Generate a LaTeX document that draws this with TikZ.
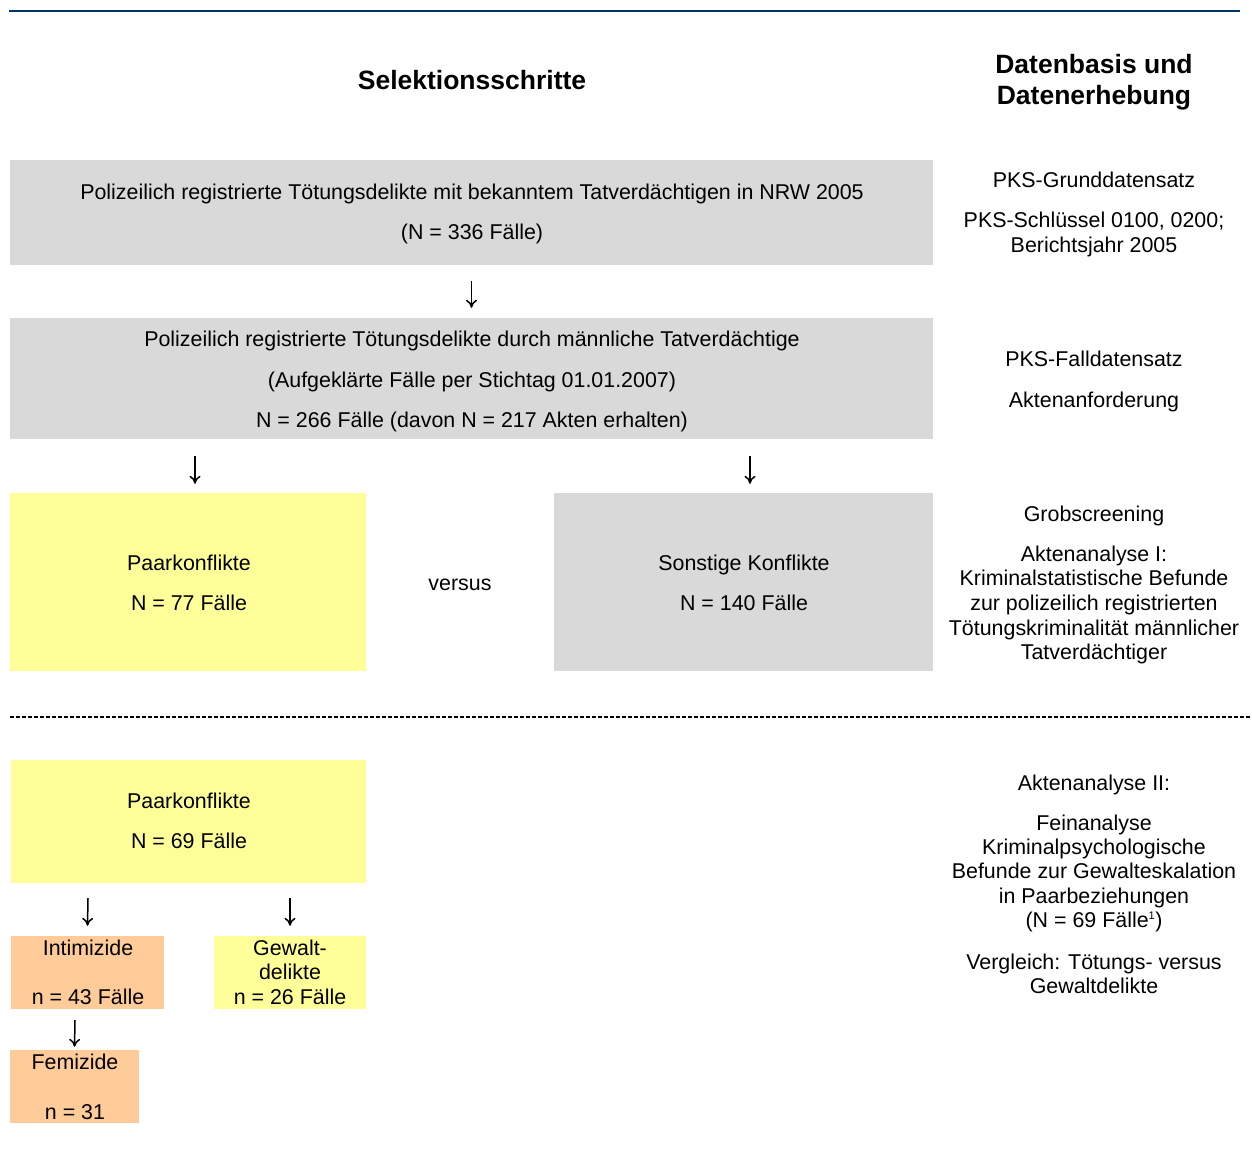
\documentclass[tikz,border=0pt]{standalone}
\usepackage{fontspec}
\setmainfont{Liberation Sans}
\usetikzlibrary{arrows.meta}
\definecolor{navy}{HTML}{003366}
\definecolor{boxgrey}{HTML}{D9D9D9}
\definecolor{boxyellow}{HTML}{FFFF99}
\definecolor{boxorange}{HTML}{FFCC99}
\tikzset{
  txt/.style={anchor=base,inner sep=0pt,font=\fontsize{21.4}{25}\selectfont},
  head/.style={anchor=base,inner sep=0pt,font=\fontsize{26.5}{31}\selectfont\bfseries},
  flowarrow/.style={-{To[length=8pt,width=11pt]},line width=1.5pt},
  box/.style={minimum width=#1,inner sep=0pt},
}
\begin{document}
\begin{tikzpicture}[x=1pt,y=-1pt]
\useasboundingbox (0,0) rectangle (1252,1155);
% top rule
\draw[navy,line width=2.2pt] (9,11) -- (1240,11);
% headings
\node[head] (h1) at (472,90) {Selektionsschritte};
\node[head] (h2) at (1094,74) {Datenbasis und};
\node[head] (h3) at (1094,105) {Datenerhebung};
% boxes
\node[fill=boxgrey,box=923pt,minimum height=105pt] (b1) at (471.5,212.5) {};
\node[fill=boxgrey,box=923pt,minimum height=121pt] (b2) at (471.5,378.5) {};
\node[fill=boxyellow,box=356pt,minimum height=178pt] (b3) at (188,582) {};
\node[fill=boxgrey,box=379pt,minimum height=178pt] (b4) at (743.5,582) {};
\node[fill=boxyellow,box=355pt,minimum height=123pt] (b5) at (188.5,821.5) {};
\node[fill=boxorange,box=153pt,minimum height=73pt] (b6) at (87.5,972.5) {};
\node[fill=boxyellow,box=152pt,minimum height=73pt] (b7) at (290,972.5) {};
\node[fill=boxorange,box=129pt,minimum height=73pt] (b8) at (74.5,1086.5) {};
% box texts
\node[txt] (t1a) at (472,200) {Polizeilich registrierte Tötungsdelikte mit bekanntem Tatverdächtigen in NRW 2005};
\node[txt] (t1b) at (472,240) {(N = 336 Fälle)};
\node[txt] (t2a) at (472,346) {Polizeilich registrierte Tötungsdelikte durch männliche Tatverdächtige};
\node[txt] (t2b) at (472,387) {(Aufgeklärte Fälle per Stichtag 01.01.2007)};
\node[txt] (t2c) at (472,427) {N = 266 Fälle (davon N = 217 Akten erhalten)};
\node[txt] (t3a) at (189,570) {Paarkonflikte};
\node[txt] (t3b) at (189,610) {N = 77 Fälle};
\node[txt] (vs) at (460,590) {versus};
\node[txt] (t4a) at (744,570) {Sonstige Konflikte};
\node[txt] (t4b) at (744,610) {N = 140 Fälle};
\node[txt] (t5a) at (189,808) {Paarkonflikte};
\node[txt] (t5b) at (189,848) {N = 69 Fälle};
\node[txt] (t6a) at (88,955) {Intimizide};
\node[txt] (t6b) at (88,1004) {n = 43 Fälle};
\node[txt] (t7a) at (290,955) {Gewalt-};
\node[txt] (t7b) at (290,979) {delikte};
\node[txt] (t7c) at (290,1004) {n = 26 Fälle};
\node[txt] (t8a) at (75,1069) {Femizide};
\node[txt] (t8b) at (75,1119) {n = 31};
% arrows
\draw[flowarrow] ([yshift=-16pt]b1.south) -- ([yshift=10pt]b2.north);
\draw[flowarrow] ([xshift=-276.5pt,yshift=-17pt]b2.south) -- ([xshift=7pt,yshift=9pt]b3.north);
\draw[flowarrow] ([xshift=278.5pt,yshift=-17pt]b2.south) -- ([xshift=6.5pt,yshift=9pt]b4.north);
\draw[flowarrow] ([xshift=-100.5pt,yshift=-15pt]b5.south) -- ([yshift=10pt]b6.north);
\draw[flowarrow] ([xshift=101.5pt,yshift=-15pt]b5.south) -- ([yshift=10pt]b7.north);
\draw[flowarrow] ([xshift=-12.5pt,yshift=-11pt]b6.south) -- ([yshift=3pt]b8.north);
% dashed separator
\draw[line width=1.3pt,dash pattern=on 4pt off 2pt] (10,717) -- (1252,717);
% right column
\node[txt] (r1) at (1094,188) {PKS-Grunddatensatz};
\node[txt] (r2) at (1094,228) {PKS-Schlüssel 0100, 0200;};
\node[txt] (r3) at (1094,253) {Berichtsjahr 2005};
\node[txt] (r4) at (1094,366) {PKS-Falldatensatz};
\node[txt] (r5) at (1094,407) {Aktenanforderung};
\node[txt] (r6) at (1094,521) {Grobscreening};
\node[txt] (r7) at (1094,561) {Aktenanalyse I:};
\node[txt] (r8) at (1094,585) {Kriminalstatistische Befunde};
\node[txt] (r9) at (1094,610) {zur polizeilich registrierten};
\node[txt] (r10) at (1094,635) {Tötungskriminalität männlicher};
\node[txt] (r11) at (1094,659) {Tatverdächtiger};
\node[txt] (r12) at (1094,790) {Aktenanalyse II:};
\node[txt] (r13) at (1094,830) {Feinanalyse};
\node[txt] (r14) at (1094,854) {Kriminalpsychologische};
\node[txt] (r15) at (1094,878) {Befunde zur Gewalteskalation};
\node[txt] (r16) at (1094,903) {in Paarbeziehungen};
\node[txt] (r17) at (1094,927) {(N = 69 Fälle\textsuperscript{\fontsize{11}{11}\selectfont 1})};
\node[txt] (r18) at (1094,969) {Vergleich: Tötungs- versus};
\node[txt] (r19) at (1094,993) {Gewaltdelikte};
\end{tikzpicture}
\end{document}
